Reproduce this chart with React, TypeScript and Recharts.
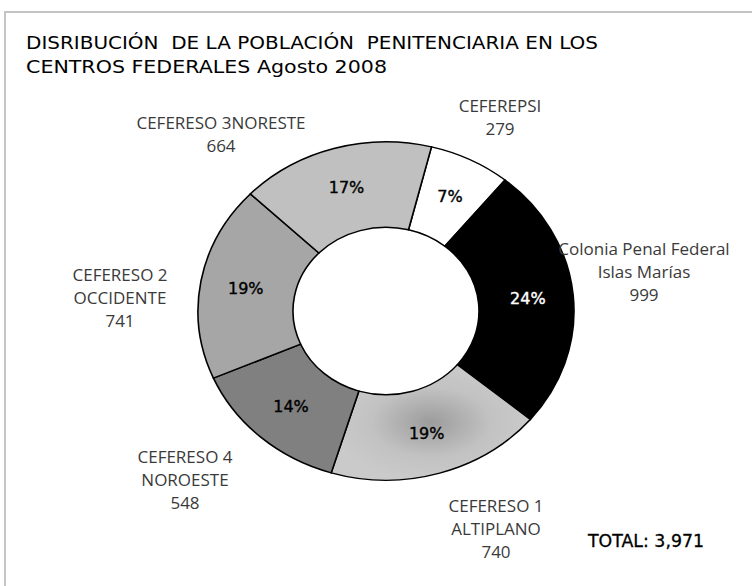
import { PieChart, Pie, Sector } from "recharts";

const centros = [
  "CEFEREPSI",
  "Colonia Penal Federal\nIslas Marías",
  "CEFERESO 1\nALTIPLANO",
  "CEFERESO 4\nNOROESTE",
  "CEFERESO 2\nOCCIDENTE",
  "CEFERESO 3NORESTE",
];
const poblacion = [279, 999, 740, 548, 741, 664];
const porcentajes = ["7%", "24%", "19%", "14%", "19%", "17%"];
const titulo = [
  "DISRIBUCIÓN  DE LA POBLACIÓN  PENITENCIARIA EN LOS",
  "CENTROS FEDERALES Agosto 2008",
];
const total = "TOTAL: 3,971";

// styles
const fills = ["#ffffff", "#000000", "url(#altiplano)", "#808080", "#a6a6a6", "#c0c0c0"];
const pctColors = ["#000", "#fff", "#000", "#000", "#000", "#000"];
// outer label anchors, relative to the pie centre (first baseline)
const labelSpots = [
  [114, -199],
  [258, -56],
  [110, 201],
  [-201, 152],
  [-266, -30],
  [-165, -182],
];

const data = centros.map((name, i) => ({ name, value: poblacion[i], fill: fills[i] }));

const SQUASH = 0.9;
const RAD = Math.PI / 180;

function EllipseSector(props: any) {
  const { cy } = props;
  return (
    <g transform={`translate(0 ${cy}) scale(1 ${SQUASH}) translate(0 ${-cy})`}>
      <Sector {...props} stroke="#000" strokeWidth={1.6} />
    </g>
  );
}

function renderLabel(props: any) {
  const { cx, cy, midAngle, innerRadius, outerRadius, index } = props;
  const r = (innerRadius + outerRadius) / 2 + 2;
  const x = cx + r * Math.cos(-midAngle * RAD);
  const y = cy + r * Math.sin(-midAngle * RAD) * SQUASH;
  const [dx, dy] = labelSpots[index];
  const lines = [...centros[index].split("\n"), String(poblacion[index])];
  const lx = cx + dx;
  return (
    <g>
      <text
        x={x}
        y={y}
        textAnchor="middle"
        dominantBaseline="central"
        fontFamily="DejaVu Sans"
        fontSize={16}
        fill={pctColors[index]}
        stroke={pctColors[index]}
        strokeWidth={0.4}
      >
        {porcentajes[index]}
      </text>
      <text x={lx} y={cy + dy} textAnchor="middle" fontFamily="Open Sans" fontSize={17} fill="#3a3a3a">
        {lines.map((l, j) => (
          <tspan key={j} x={lx} dy={j === 0 ? 0 : 23}>
            {l}
          </tspan>
        ))}
      </text>
    </g>
  );
}

export default function App() {
  return (
    <div style={{ position: "fixed", left: 0, top: 0, width: 752, height: 586, background: "#fff" }}>
      <svg width={752} height={586} style={{ position: "absolute", left: 0, top: 0 }}>
        <defs>
          <radialGradient id="altiplano" cx="0.5" cy="0.5" r="0.5">
            <stop offset="0" stopColor="#9c9c9c" />
            <stop offset="0.6" stopColor="#c2c2c2" />
            <stop offset="1" stopColor="#cacaca" />
          </radialGradient>
        </defs>
        <rect x={5} y={12} width={800} height={620} fill="none" stroke="#c4c4c4" strokeWidth={2} />
        <text
          x={26}
          y={49}
          fontFamily="DejaVu Sans"
          fontSize={18}
          fill="#000"
          textLength={572}
          lengthAdjust="spacingAndGlyphs"
          style={{ whiteSpace: "pre" }}
        >
          {titulo[0]}
        </text>
        <text
          x={26}
          y={73}
          fontFamily="DejaVu Sans"
          fontSize={18}
          fill="#000"
          textLength={361}
          lengthAdjust="spacingAndGlyphs"
        >
          {titulo[1]}
        </text>
        <text
          x={588}
          y={547}
          fontFamily="DejaVu Sans"
          fontSize={17}
          fill="#000"
          stroke="#000"
          strokeWidth={0.3}
          textLength={116}
          lengthAdjust="spacingAndGlyphs"
        >
          {total}
        </text>
      </svg>
      <div style={{ position: "absolute", left: 0, top: 0 }}>
        <PieChart width={752} height={586} margin={{ top: 0, right: 0, bottom: 0, left: 0 }}>
          <Pie
            data={data}
            dataKey="value"
            nameKey="name"
            cx={386}
            cy={311}
            outerRadius={188}
            innerRadius={93}
            startAngle={76}
            endAngle={-284}
            shape={EllipseSector}
            label={renderLabel}
            labelLine={false}
            isAnimationActive={false}
          />
        </PieChart>
      </div>
    </div>
  );
}
